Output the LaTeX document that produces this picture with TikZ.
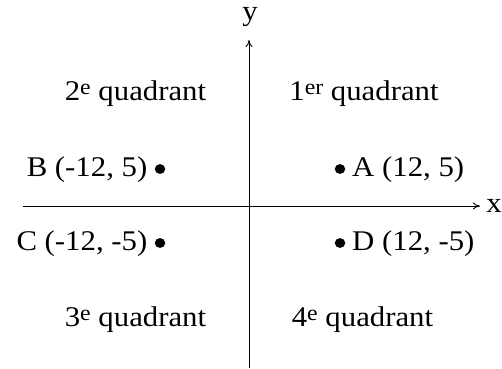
\documentclass[tikz,border=0pt]{standalone}
\usepackage{fontspec}
\setmainfont{Liberation Serif}
\usetikzlibrary{arrows.meta,shapes.geometric}
\newcommand{\hs}[1]{\scalebox{1.08}[1]{#1}}
\newcommand{\sups}[1]{\raisebox{6pt}{\fontsize{22}{22}\selectfont #1}}
\begin{document}
\begin{tikzpicture}[x=1pt,y=-1pt,
  lbl/.style={inner sep=0pt,font=\fontsize{28.5}{34}\selectfont},
  axis/.style={line width=0.9pt,-{To[length=7pt,width=7pt]}},
  pt/.style={ellipse,fill=black,inner sep=0pt,minimum width=10.5pt,minimum height=9.8pt}]
\useasboundingbox (0,0) rectangle (502,368);
% axes
\coordinate (xs) at (23,206);
\coordinate (xe) at (480,206);
\coordinate (ys) at (249,368);
\coordinate (ye) at (249,40);
\draw[axis] (xs) -- (xe);
\draw[axis] (ys) -- (ye);
\node[lbl,anchor=base] (xl) at (494,212) {\hs{x}};
\node[lbl,anchor=base] (yl) at (250,20) {\hs{y}};
% quadrant labels
\node[lbl,anchor=base] (q2) at (135.5,100) {\hs{2\sups{e} quadrant}};
\node[lbl,anchor=base] (q1) at (364,100) {\hs{1\sups{er} quadrant}};
\node[lbl,anchor=base] (q3) at (135.5,326) {\hs{3\sups{e} quadrant}};
\node[lbl,anchor=base] (q4) at (362.5,326) {\hs{4\sups{e} quadrant}};
% points
\node[pt] (B) at (160,169) {};
\node[pt] (C) at (160,243) {};
\node[pt] (A) at (340,169) {};
\node[pt] (D) at (340,243) {};
\node[lbl,anchor=base east] (Bl) at (147.5,176) {\hs{B (-12, 5)}};
\node[lbl,anchor=base east] (Cl) at (147.5,250) {\hs{C (-12, -5)}};
\node[lbl,anchor=base west] (Al) at (352,176) {\hs{A (12, 5)}};
\node[lbl,anchor=base west] (Dl) at (352,250) {\hs{D (12, -5)}};
\end{tikzpicture}
\end{document}
